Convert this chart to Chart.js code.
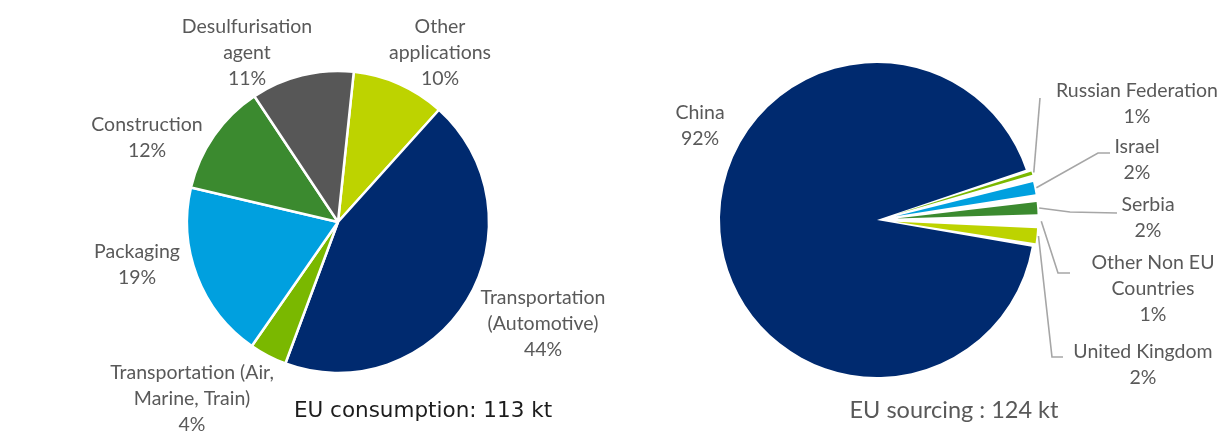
<!DOCTYPE html>
<html>
<head>
<meta charset="utf-8">
<script src="https://cdn.jsdelivr.net/npm/chart.js@4.4.1/dist/chart.umd.min.js"></script>
<style>
  body { margin: 0; background: #fff; }
  #wrap { position: relative; width: 1224px; height: 441px; }
  canvas { position: absolute; left: 0; top: 0; }
</style>
</head>
<body>
<div id="wrap">
  <canvas id="consumption" width="1224" height="441"></canvas>
  <canvas id="sourcingBase" width="1224" height="441"></canvas>
  <canvas id="sourcing" width="1224" height="441"></canvas>
</div>
<script>
// EU consumption by application (%)
const useLabels = [["Other", "applications"], ["Transportation", "(Automotive)"], ["Transportation (Air,", "Marine, Train)"], ["Packaging"], ["Construction"], ["Desulfurisation", "agent"]];
const useValues = [10, 44, 4, 19, 12, 11];
const useTotal = "EU consumption: 113 kt";

// EU sourcing by country (%)
const srcLabels = [["China"], ["Russian Federation"], ["Israel"], ["Serbia"], ["Other Non EU", "Countries"], ["United Kingdom"]];
const srcValues = [92.1, 1.0, 2.0, 2.0, 0.6, 2.3];
const srcTotal = "EU sourcing : 124 kt";

const NAVY = "#002A6F", LBLUE = "#00A0DF", GREEN = "#3B8A2F", LGREEN = "#7AB800",
      LIME = "#BDD300", GREY = "#575757", DGREY = "#4A4A4A";

const useColors = [LIME, NAVY, LGREEN, LBLUE, GREEN, GREY];
const srcColors = [NAVY, LGREEN, LBLUE, GREEN, DGREY, LIME];

const TEXT = "#595959";
const LABEL_FONT = "19.5px Lato";
const LINE_H = 26;

// text placement: [centre x, first line y]
const usePos = [[440, 27], [543, 298], [192, 373], [137, 252], [147, 125], [247, 27]];
const srcPos = [[700, 113], [1137, 91], [1137, 147], [1148, 205], [1153, 263], [1143, 352]];
// leader line bends after the slice edge point (null = no leader)
const srcLeaders = [null, [[1040, 98]], [[1098, 153], [1110, 153]], [[1070, 212], [1117, 213]],
                    [[1058, 273], [1070, 273]], [[1052, 357], [1063, 357]]];

function pieText(id, opts) {
  return {
    id: id,
    afterDraw(chart) {
      const ctx = chart.ctx;
      const meta = chart.getDatasetMeta(0);
      const values = chart.data.datasets[0].data;
      ctx.save();

      // leader lines
      if (opts.leaders) {
        ctx.strokeStyle = "#A6A6A6";
        ctx.lineWidth = 1.6;
        opts.leaders.forEach((pts, i) => {
          if (!pts) return;
          const arc = meta.data[i];
          const p = arc.getProps(["x", "y", "startAngle", "endAngle", "outerRadius"]);
          const mid = (p.startAngle + p.endAngle) / 2;
          const circ = p.endAngle - p.startAngle;
          const off = (arc.options.offset || 0) / 4;
          const shift = off + off * (1 - Math.sin(Math.min(Math.PI, circ)));
          const r = p.outerRadius + shift + 2;
          ctx.beginPath();
          ctx.moveTo(p.x + Math.cos(mid) * r, p.y + Math.sin(mid) * r);
          pts.forEach(q => ctx.lineTo(q[0], q[1]));
          ctx.stroke();
        });
      }

      // category + percentage labels
      ctx.font = LABEL_FONT;
      ctx.fillStyle = TEXT;
      ctx.textAlign = "center";
      ctx.textBaseline = "middle";
      chart.data.labels.forEach((lab, i) => {
        const lines = lab.concat([Math.round(values[i]) + "%"]);
        const [cx, y0] = opts.pos[i];
        lines.forEach((t, k) => ctx.fillText(t, cx, y0 + k * LINE_H));
      });

      // total under the pie
      ctx.font = opts.title.font;
      ctx.fillStyle = opts.title.color;
      ctx.fillText(opts.title.text, opts.title.x, opts.title.y);
      ctx.restore();
    }
  };
}

const common = {
  responsive: false,
  animation: false,
  events: [],
  plugins: { legend: { display: false }, tooltip: { enabled: false } }
};

// ------------------------- left pie: consumption
new Chart(document.getElementById("consumption"), {
  type: "pie",
  data: {
    labels: useLabels,
    datasets: [{
      data: useValues,
      backgroundColor: useColors,
      borderColor: "#ffffff",
      borderWidth: 2.5
    }]
  },
  options: Object.assign({}, common, {
    rotation: 6,
    radius: 151,
    layout: { padding: { left: 0, right: 548, top: 3, bottom: 0 } }
  }),
  plugins: [pieText("useText", {
    pos: usePos,
    title: { text: useTotal, x: 423, y: 411, font: '21.5px "DejaVu Sans"', color: "#1c1c1c" }
  })]
});

// ------------------------- right pie: sourcing
// main slice at full size, the small slices pulled out on a smaller radius
const clear = "rgba(0,0,0,0)";
const srcLayout = { padding: { left: 530, right: 0, top: 0, bottom: 1 } };

new Chart(document.getElementById("sourcingBase"), {
  type: "pie",
  data: {
    labels: srcLabels,
    datasets: [{
      data: srcValues,
      backgroundColor: srcColors.map((c, i) => i === 0 ? c : clear),
      borderWidth: 0
    }]
  },
  options: Object.assign({}, common, { rotation: 99.8, radius: 157, layout: srcLayout })
});

new Chart(document.getElementById("sourcing"), {
  type: "pie",
  data: {
    labels: srcLabels,
    datasets: [{
      data: srcValues,
      backgroundColor: srcColors.map((c, i) => i === 0 ? clear : c),
      borderWidth: 0,
      offset: srcColors.map((c, i) => i === 0 ? 0 : 76)
    }]
  },
  options: Object.assign({}, common, { rotation: 99.8, radius: 125, layout: srcLayout }),
  plugins: [pieText("srcText", {
    pos: srcPos,
    leaders: srcLeaders,
    title: { text: srcTotal, x: 954, y: 410, font: "23.5px Lato", color: TEXT }
  })]
});
</script>
</body>
</html>
